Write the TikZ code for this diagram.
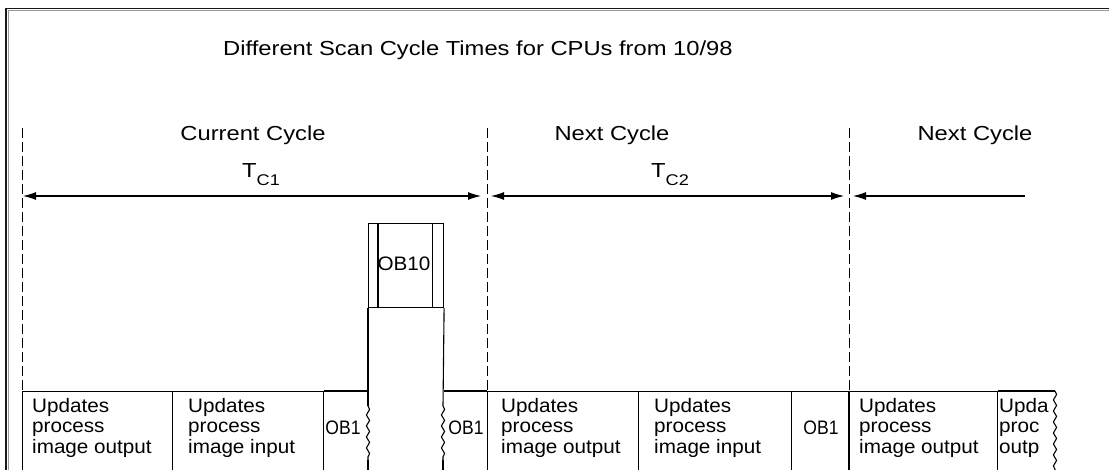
\documentclass[tikz,border=0pt]{standalone}
\usepackage{fontspec}
\setmainfont{Liberation Sans}
\newfontfamily\capfont[FakeStretch=1.17]{Liberation Sans}
\newfontfamily\boxfont[FakeStretch=1.06]{Liberation Sans}
\newfontfamily\obfont[FakeStretch=0.9]{Liberation Sans}
\usetikzlibrary{arrows.meta,decorations.pathmorphing}
\tikzset{
  boxline/.style={draw=black, line width=1.1pt},
  cell/.style={boxline, rectangle, inner sep=0pt, anchor=north west, minimum height=110pt},
  lbl/.style={inner sep=0pt, align=left, anchor=north west, font=\boxfont\fontsize{19.5}{20.5}\selectfont},
  captxt/.style={inner sep=0pt, anchor=base, font=\capfont\fontsize{20.3}{24}\selectfont},
  obtxt/.style={inner sep=0pt, anchor=center, font=\obfont\fontsize{19.5}{20.5}\selectfont},
  guide/.style={draw=black, line width=1pt, dash pattern=on 10pt off 4pt},
  dim/.style={draw=black, line width=1.1pt},
  wavy/.style={draw=black, line width=1.1pt, decorate, decoration={snake, amplitude=1.6pt, segment length=11pt}}
}
\begin{document}
\begin{tikzpicture}[x=1pt,y=-1pt]
\useasboundingbox (0,0) rectangle (1109,469);
\clip (0,0) rectangle (1109,469);
% frame
\draw[line width=1.6pt, black!90] (6,480) -- (6,8.5) -- (1120,8.5);
\draw[line width=1pt, black!40] (8,480) -- (8,10.5) -- (1120,10.5);
% title
\node[captxt, anchor=base west] (title) at (223,55) {Different Scan Cycle Times for CPUs from 10/98};
% cycle labels
\node[captxt] (cc) at (253,140) {Current Cycle};
\node[captxt] (nc1) at (612,140) {Next Cycle};
\node[captxt] (nc2) at (975,140) {Next Cycle};
\node[captxt] (tc1) at (261,177) {T\raisebox{-8pt}{\fontsize{15.5}{16}\selectfont C1}};
\node[captxt] (tc2) at (670,177) {T\raisebox{-8pt}{\fontsize{15.5}{16}\selectfont C2}};
% guides
\coordinate (g1t) at (22,128); \coordinate (g1b) at (22,391);
\coordinate (g2t) at (487,128); \coordinate (g2b) at (487,391);
\coordinate (g3t) at (849,128); \coordinate (g3b) at (849,391);
\draw[guide] (g1t) -- (g1b);
\draw[guide] (g2t) -- (g2b);
\draw[guide] (g3t) -- (g3b);
% dimension arrows
\coordinate (a1l) at (23,196); \coordinate (a1r) at (481,196);
\coordinate (a2l) at (491,196); \coordinate (a2r) at (844,196);
\coordinate (a3l) at (853,196); \coordinate (a3r) at (1025,196);
\draw[dim, {Latex[length=13pt,width=8pt]}-{Latex[length=13pt,width=8pt]}] (a1l) -- (a1r);
\draw[dim, {Latex[length=13pt,width=8pt]}-{Latex[length=13pt,width=8pt]}] (a2l) -- (a2r);
\draw[dim, {Latex[length=13pt,width=8pt]}-] (a3l) -- (a3r);
% OB10 column
\node[cell, minimum width=75pt, minimum height=84pt] (ob10) at (368,223) {};
\node[lbl, anchor=center] (ob10t) at (404,264) {OB10};
\draw[boxline] ([xshift=10pt]ob10.north west) -- ([xshift=10pt]ob10.south west);
\draw[boxline] ([xshift=-12pt]ob10.north east) -- ([xshift=-12pt]ob10.south east);
\coordinate (cl1) at (368,406); \coordinate (cl2) at (368,460); \coordinate (cl3) at (368,480);
\coordinate (cr1) at (443,406); \coordinate (cr2) at (443,460); \coordinate (cr3) at (443,480);
\draw[boxline] (ob10.south west) -- (cl1);
\draw[wavy] (cl1) -- (cl2);
\draw[boxline] (cl2) -- (cl3);
\draw[boxline] (ob10.south east) -- (cr1);
\draw[wavy] (cr1) -- (cr2);
\draw[boxline] (cr2) -- (cr3);
% bottom row, left cycle
\node[cell, minimum width=150pt] (b1) at (22,391) {};
\node[lbl] (b1t) at (32,398) {Updates\\process\\image output};
\node[cell, minimum width=151pt] (b2) at (172,391) {};
\node[lbl] (b2t) at (188,398) {Updates\\process\\image input};
\draw[boxline] (b2.north east) -- (ob10.south west |- b2.north east);
\node[obtxt] (ob1a) at (343,428) {OB1};
\coordinate (s2) at (487,391);
\draw[boxline] (ob10.south east |- s2) -- (s2);
\node[obtxt] (ob1b) at (466,428) {OB1};
% bottom row, next cycle
\node[cell, minimum width=151pt] (b3) at (487,391) {};
\node[lbl] (b3t) at (501,398) {Updates\\process\\image output};
\node[cell, minimum width=153pt] (b4) at (638,391) {};
\node[lbl] (b4t) at (654,398) {Updates\\process\\image input};
\node[cell, minimum width=58pt] (ob1c) at (791,391) {};
\node[obtxt] (ob1ct) at (821,428) {OB1};
% bottom row, next-next cycle
\node[cell, minimum width=149pt] (b5) at (848,391) {};
\node[lbl] (b5t) at (859,398) {Updates\\process\\image output};
\coordinate (b6r) at (1055,391);
\coordinate (b6w) at (1055,470);
\draw[boxline] (b5.north east) -- (b6r);
\draw[wavy] (b6r) -- (b6w);
\node[lbl] (b6t) at (999,398) {Upda\\proc\\outp};
\end{tikzpicture}
\end{document}
